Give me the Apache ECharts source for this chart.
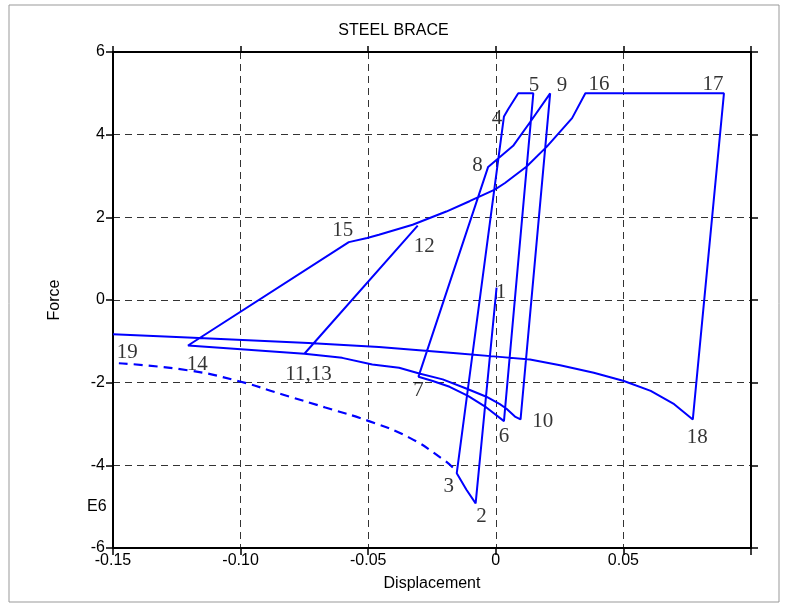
<!DOCTYPE html>
<html>
<head>
<meta charset="utf-8">
<script src="https://cdn.jsdelivr.net/npm/echarts@6/dist/echarts.min.js"></script>
<style>
  html, body { margin: 0; padding: 0; background: #fff; }
  #chart { width: 787px; height: 609px; }
</style>
</head>
<body>
<div id="chart"></div>
<script>
// hysteresis path, points 1..19 in order (displacement, force in E6)
var pathX = [0.0003, -0.0079, -0.0115, -0.0153, 0.0032, 0.0049, 0.0088, 0.0147,
  0.0032, -0.0037, -0.0109, -0.0181, -0.0247, -0.0303,
  -0.0030, 0.0068, 0.0141, 0.0213,
  0.0097, 0.0075, 0.0042, 0.0016, -0.0037, -0.0116, -0.0208, -0.0300, -0.0379, -0.0484, -0.0602, -0.0750,
  -0.0306, -0.0750, -0.1206,
  -0.0576, -0.0504, -0.0458, -0.0326, -0.0194, -0.0103, -0.0004, 0.0036, 0.0121, 0.0200, 0.0299, 0.0351,
  0.0894, 0.0772,
  0.0699, 0.0607, 0.0502, 0.0384, 0.0252, 0.0134, 0.0003, -0.0155, -0.0458, -0.0734, -0.1207, -0.1500];
var pathY = [0.30, -4.92, -4.59, -4.19, 4.44, 4.62, 5.0, 5.0,
  -2.93, -2.60, -2.32, -2.10, -1.96, -1.855,
  3.22, 3.73, 4.36, 5.0,
  -2.89, -2.82, -2.63, -2.52, -2.34, -2.14, -1.92, -1.78, -1.64, -1.56, -1.40, -1.30,
  1.80, -1.30, -1.10,
  1.40, 1.50, 1.58, 1.82, 2.14, 2.39, 2.67, 2.83, 3.23, 3.71, 4.40, 5.0,
  5.0, -2.89,
  -2.52, -2.20, -1.96, -1.76, -1.58, -1.44, -1.37, -1.29, -1.14, -1.04, -0.91, -0.83];

// dashed buckling envelope
var dashX = [-0.1477, -0.1207, -0.1010, -0.0839, -0.0668, -0.0497, -0.0339, -0.0208, -0.0162];
var dashY = [-1.53, -1.70, -1.96, -2.28, -2.60, -2.93, -3.33, -3.85, -4.09];

// point labels
var labelText = ['1', '2', '3', '4', '5', '6', '7', '8', '9', '10', '11,13', '12', '14', '15', '16', '17', '18', '19'];
var labelX = [0.0020, -0.0056, -0.0184, 0.0005, 0.0150, 0.0032, -0.0303, -0.0072, 0.0259, 0.0184,
  -0.0734, -0.0280, -0.1170, -0.0600, 0.0404, 0.0851, 0.0789, -0.1444];
var labelY = [0.18, -5.23, -4.50, 4.38, 5.18, -3.29, -2.20, 3.25, 5.18, -2.93,
  -1.80, 1.30, -1.56, 1.69, 5.21, 5.21, -3.33, -1.28];

var xTicks = { '-0.15': '-0.15', '-0.1': '-0.10', '-0.05': '-0.05', '0': '0', '0.05': '0.05' };

function pairs(xs, ys) {
  return xs.map(function (x, i) { return [x, ys[i]]; });
}

var chart = echarts.init(document.getElementById('chart'));
var font = 'Liberation Sans';
var blue = '#0000ff';
var gridDash = { color: '#333', width: 1, type: [7, 5] };

var option = {
  animation: false,
  backgroundColor: '#fff',
  textStyle: { fontFamily: font },
  title: {
    text: 'STEEL BRACE',
    left: 'center',
    top: 18,
    textStyle: { fontFamily: font, fontSize: 16, fontWeight: 'normal', color: '#000' }
  },
  grid: { left: 113, right: 36, top: 52, bottom: 61 },
  xAxis: [{
    type: 'value',
    min: -0.15,
    max: 0.1,
    interval: 0.05,
    name: 'Displacement',
    nameLocation: 'middle',
    nameGap: 28,
    nameTextStyle: { fontFamily: font, fontSize: 16, color: '#000' },
    axisLine: { onZero: false, lineStyle: { color: '#000', width: 2 } },
    axisTick: { length: 7, lineStyle: { color: '#000', width: 1.5 } },
    axisLabel: {
      fontFamily: font, fontSize: 16, color: '#000', margin: 5,
      formatter: function (v) {
        var k = String(Math.round(v * 100) / 100);
        return xTicks[k] !== undefined ? xTicks[k] : '';
      }
    },
    splitLine: { show: true, lineStyle: gridDash }
  }, {
    type: 'value',
    position: 'top',
    min: -0.15,
    max: 0.1,
    interval: 0.05,
    axisLine: { show: true, onZero: false, lineStyle: { color: '#000', width: 2 } },
    axisTick: { show: true, length: 6, lineStyle: { color: '#000', width: 1.5 } },
    axisLabel: { show: false },
    splitLine: { show: false }
  }],
  yAxis: [{
    type: 'value',
    min: -6,
    max: 6,
    interval: 2,
    name: 'Force',
    nameLocation: 'middle',
    nameRotate: 90,
    nameGap: 50,
    nameTextStyle: { fontFamily: font, fontSize: 16, color: '#000' },
    axisLine: { show: true, onZero: false, lineStyle: { color: '#000', width: 2 } },
    axisTick: { show: true, length: 7, lineStyle: { color: '#000', width: 1.5 } },
    axisLabel: { fontFamily: font, fontSize: 16, color: '#000', margin: 8 },
    splitLine: { show: true, lineStyle: gridDash }
  }, {
    type: 'value',
    position: 'right',
    min: -6,
    max: 6,
    interval: 2,
    axisLine: { show: true, onZero: false, lineStyle: { color: '#000', width: 2 } },
    axisTick: { show: true, length: 7, lineStyle: { color: '#000', width: 1.5 } },
    axisLabel: { show: false },
    splitLine: { show: false }
  }],
  graphic: [{
    type: 'rect',
    shape: { x: 9, y: 5, width: 770, height: 597 },
    style: { fill: 'none', stroke: '#999', lineWidth: 1 },
    silent: true
  }, {
    type: 'text',
    left: 87,
    top: 499,
    style: { text: 'E6', font: '16px Liberation Sans', fill: '#000' }
  }],
  series: [{
    name: 'path',
    type: 'line',
    data: pairs(pathX, pathY),
    showSymbol: false,
    smooth: false,
    lineStyle: { color: blue, width: 2 },
    z: 3
  }, {
    name: 'envelope',
    type: 'line',
    data: pairs(dashX, dashY),
    showSymbol: false,
    smooth: true,
    lineStyle: { color: blue, width: 2.2, type: [9, 6] },
    z: 3
  }, {
    name: 'labels',
    type: 'scatter',
    data: pairs(labelX, labelY),
    symbolSize: 1,
    itemStyle: { color: 'rgba(0,0,0,0)' },
    label: {
      show: true,
      position: 'inside',
      fontFamily: 'Liberation Serif',
      fontSize: 21,
      color: '#000',
      formatter: function (p) { return labelText[p.dataIndex]; }
    },
    z: 4
  }]
};

chart.setOption(option);
</script>
</body>
</html>
